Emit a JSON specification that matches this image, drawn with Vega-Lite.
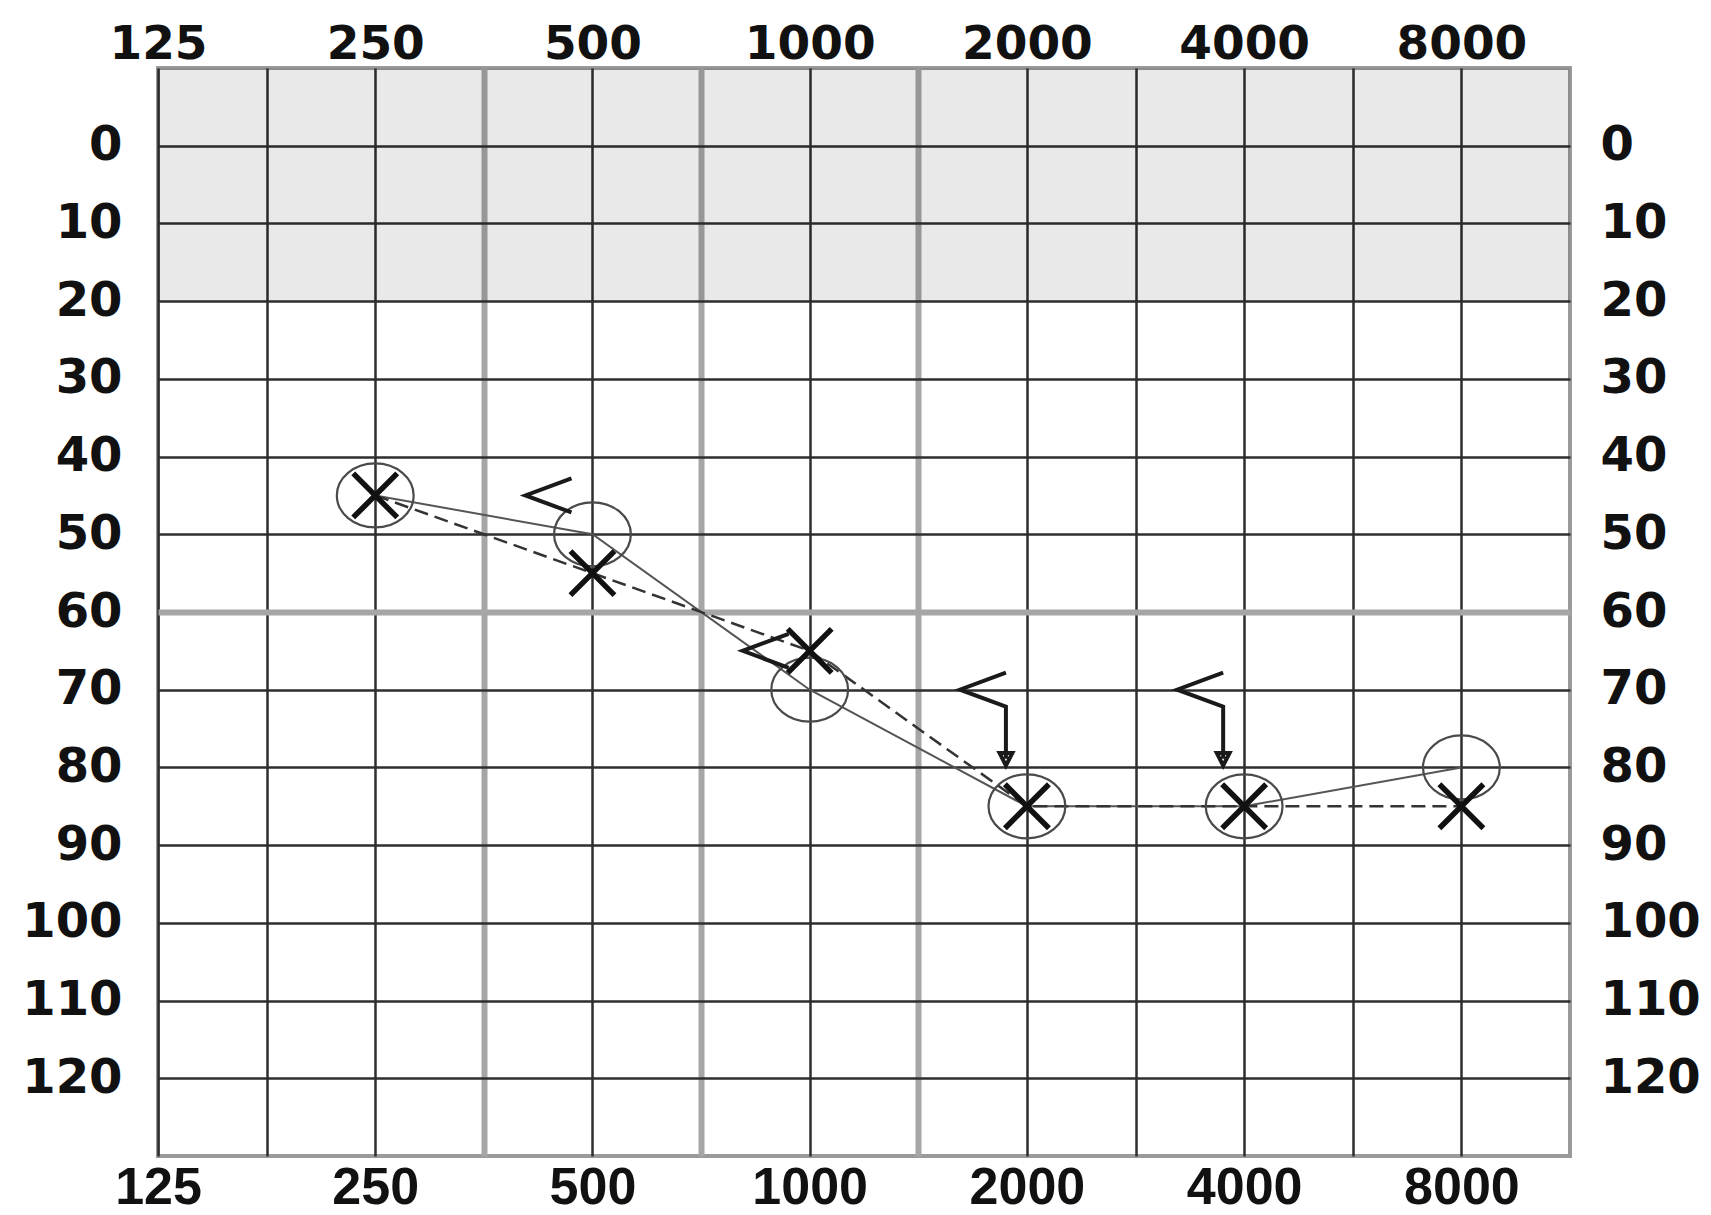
{
  "$schema": "https://vega.github.io/schema/vega-lite/v6.json",
  "autosize": {"type": "none"},
  "padding": {"left": 158, "top": 68, "right": 141, "bottom": 59},
  "width": 1412,
  "height": 1088,
  "background": "#ffffff",
  "config": {
    "view": {"stroke": "#9a9a9a", "strokeWidth": 4},
    "axis": {"ticks": false, "tickSize": 0, "domain": false, "labelColor": "#111111", "labelFontWeight": "bold"}
  },
  "datasets": {
    "thresholds": [
      {"test": "air_right", "freq": 250, "db": 45},
      {"test": "air_right", "freq": 500, "db": 50},
      {"test": "air_right", "freq": 1000, "db": 70},
      {"test": "air_right", "freq": 2000, "db": 85},
      {"test": "air_right", "freq": 4000, "db": 85},
      {"test": "air_right", "freq": 8000, "db": 80},
      {"test": "air_left", "freq": 250, "db": 45},
      {"test": "air_left", "freq": 500, "db": 55},
      {"test": "air_left", "freq": 1000, "db": 65},
      {"test": "air_left", "freq": 2000, "db": 85},
      {"test": "air_left", "freq": 4000, "db": 85},
      {"test": "air_left", "freq": 8000, "db": 85},
      {"test": "bone_right", "freq": 500, "db": 45, "response": true},
      {"test": "bone_right", "freq": 1000, "db": 65, "response": true},
      {"test": "bone_right", "freq": 2000, "db": 70, "response": false},
      {"test": "bone_right", "freq": 4000, "db": 70, "response": false}
    ],
    "normalBand": [{"from": -10, "to": 20}]
  },
  "resolve": {"axis": {"x": "independent", "y": "independent"}},
  "layer": [
    {
      "data": {"name": "normalBand"},
      "mark": {"type": "rect", "fill": "#000000", "opacity": 0.085},
      "encoding": {
        "x": {"value": 0},
        "x2": {"value": "width"},
        "y": {"field": "from", "type": "quantitative", "scale": {"domain": [-10, 130], "reverse": true, "nice": false, "zero": false}, "axis": null},
        "y2": {"field": "to"}
      }
    },
    {
      "data": {"name": "thresholds"},
      "transform": [{"filter": "datum.test === 'air_right'"}],
      "mark": {"type": "line", "stroke": "#555555", "strokeWidth": 2},
      "encoding": {
        "x": {
          "field": "freq", "type": "quantitative",
          "scale": {"type": "log", "base": 2, "domain": [125, 11313.7], "nice": false},
          "axis": {
            "orient": "top", "title": null,
            "values": [125, 176.78, 250, 353.55, 500, 707.11, 1000, 1414.2, 2000, 2828.4, 4000, 5656.9, 8000],
            "labelExpr": "indexof([125, 250, 500, 1000, 2000, 4000, 8000], datum.value) >= 0 ? format(datum.value, 'd') : ''",
            "grid": true,
            "gridColor": {"condition": {"test": "round(datum.value) == 354 || round(datum.value) == 707 || round(datum.value) == 1414", "value": "#a6a6a6"}, "value": "#2e2e2e"},
            "gridWidth": {"condition": {"test": "round(datum.value) == 354 || round(datum.value) == 707 || round(datum.value) == 1414", "value": 6}, "value": 2.5},
            "labelFont": "DejaVu Sans", "labelFontSize": 47, "labelPadding": 10, "labelBaseline": "alphabetic",
            "labelFlush": false, "labelOverlap": false, "labelBound": false
          }
        },
        "y": {
          "field": "db", "type": "quantitative",
          "scale": {"domain": [-10, 130], "reverse": true, "nice": false, "zero": false},
          "axis": {
            "orient": "left", "title": null,
            "values": [0, 10, 20, 30, 40, 50, 60, 70, 80, 90, 100, 110, 120],
            "grid": true,
            "gridColor": {"condition": {"test": "datum.value == 60", "value": "#a6a6a6"}, "value": "#2e2e2e"},
            "gridWidth": {"condition": {"test": "datum.value == 60", "value": 6}, "value": 2.5},
            "labelFont": "DejaVu Sans", "labelFontSize": 48, "labelPadding": 36,
            "labelOverlap": false, "labelBound": false, "labelFlush": false
          }
        }
      }
    },
    {
      "data": {"name": "thresholds"},
      "transform": [{"filter": "datum.test === 'air_left'"}],
      "mark": {"type": "line", "stroke": "#333333", "strokeWidth": 2.5, "strokeDash": [14, 7]},
      "encoding": {
        "x": {
          "field": "freq", "type": "quantitative",
          "scale": {"type": "log", "base": 2, "domain": [125, 11313.7], "nice": false},
          "axis": {
            "orient": "bottom", "title": null,
            "values": [125, 250, 500, 1000, 2000, 4000, 8000],
            "format": "d", "grid": false,
            "labelFont": "Liberation Sans", "labelFontSize": 52, "labelPadding": 6,
            "labelFlush": false, "labelOverlap": false, "labelBound": false
          }
        },
        "y": {
          "field": "db", "type": "quantitative",
          "scale": {"domain": [-10, 130], "reverse": true, "nice": false, "zero": false},
          "axis": {
            "orient": "right", "title": null,
            "values": [0, 10, 20, 30, 40, 50, 60, 70, 80, 90, 100, 110, 120],
            "grid": false,
            "labelFont": "DejaVu Sans", "labelFontSize": 48, "labelPadding": 30,
            "labelOverlap": false, "labelBound": false, "labelFlush": false
          }
        }
      }
    },
    {
      "data": {"name": "thresholds"},
      "transform": [{"filter": "datum.test === 'air_right'"}],
      "mark": {"type": "point", "shape": "M-1.2,0A1.2,1 0 1,1 1.2,0A1.2,1 0 1,1 -1.2,0Z", "size": 4096, "filled": false, "stroke": "#4a4a4a", "strokeWidth": 2.2, "opacity": 1},
      "encoding": {
        "x": {"field": "freq", "type": "quantitative", "axis": null},
        "y": {"field": "db", "type": "quantitative", "axis": null}
      }
    },
    {
      "data": {"name": "thresholds"},
      "transform": [{"filter": "datum.test === 'air_left'"}],
      "mark": {"type": "point", "shape": "M-1,-1L1,1M-1,1L1,-1", "size": 1936, "filled": false, "stroke": "#111111", "strokeWidth": 5.5, "opacity": 1},
      "encoding": {
        "x": {"field": "freq", "type": "quantitative", "axis": null},
        "y": {"field": "db", "type": "quantitative", "axis": null}
      }
    },
    {
      "data": {"name": "thresholds"},
      "transform": [{"filter": "datum.test === 'bone_right' && datum.response"}],
      "mark": {"type": "point", "shape": "M1,-0.74L-1,0L1,0.74", "size": 2116, "xOffset": -44, "filled": false, "stroke": "#1a1a1a", "strokeWidth": 4, "opacity": 1},
      "encoding": {
        "x": {"field": "freq", "type": "quantitative", "axis": null},
        "y": {"field": "db", "type": "quantitative", "axis": null}
      }
    },
    {
      "data": {"name": "thresholds"},
      "transform": [{"filter": "datum.test === 'bone_right' && !datum.response"}],
      "mark": {"type": "point", "shape": "M1,-0.74L-1,0L1,0.74L1,3.0M0.72,2.75L1,3.3L1.28,2.75Z", "size": 2116, "xOffset": -44, "filled": false, "stroke": "#1a1a1a", "strokeWidth": 4, "opacity": 1},
      "encoding": {
        "x": {"field": "freq", "type": "quantitative", "axis": null},
        "y": {"field": "db", "type": "quantitative", "axis": null}
      }
    }
  ]
}
